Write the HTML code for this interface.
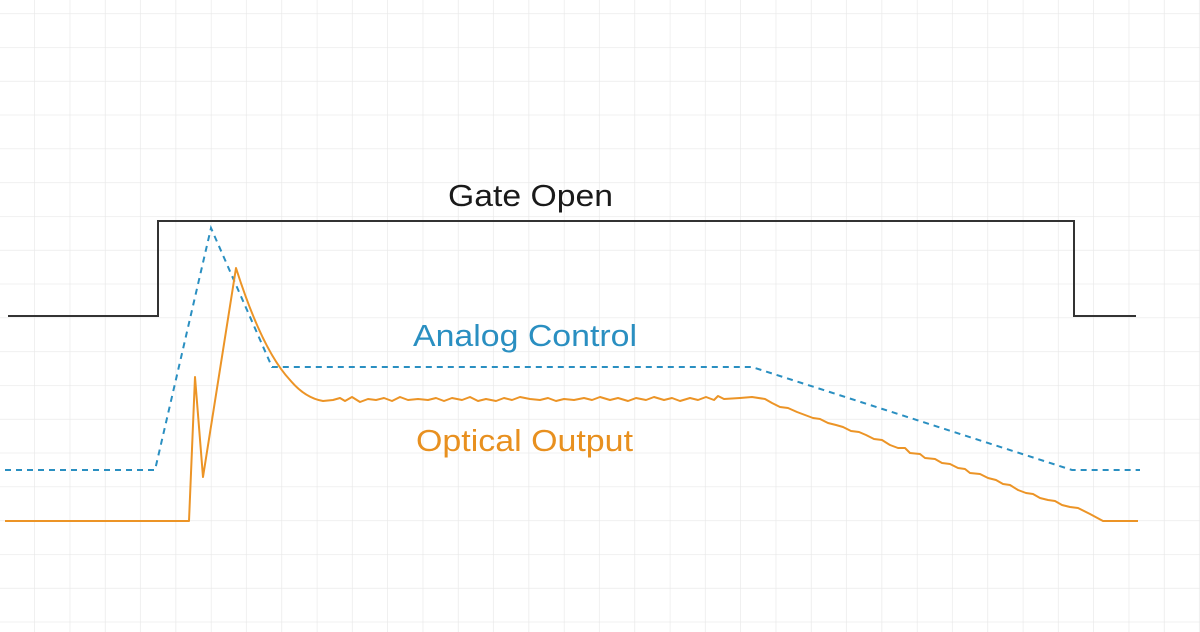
<!DOCTYPE html>
<html><head><meta charset="utf-8"><style>html,body{margin:0;padding:0;background:#fff}svg{display:block}</style></head>
<body>
<svg width="1200" height="632" viewBox="0 0 1200 632" xmlns="http://www.w3.org/2000/svg">
<defs>
<pattern id="g" x="-0.3" y="13.3" width="35.3" height="33.8" patternUnits="userSpaceOnUse">
<path d="M35.3 0V33.8M0 0H35.3" stroke="#e8e8e8" stroke-width="1.3" fill="none"/>
</pattern>
</defs>
<rect width="1200" height="632" fill="url(#g)"/>
<polyline points="8,316 158,316 158,221 1074,221 1074,316 1136,316" fill="none" stroke="#333" stroke-width="2"/>
<polyline points="5,470 155,470 211,228 272,367 752,367 1072,470 1140,470" fill="none" stroke="#2a8fc1" stroke-width="2" stroke-dasharray="6,5"/>
<path d="M5,521 L189,521 L195,377 L203,477 L236,268 Q262,350 290,380 Q305,398 323,401 L333,400 L340,398 L345,401 L352,397 L360,402 L368,399 L376,400 L384,398 L392,401 L400,397 L408,400 L418,399 L428,400 L436,398 L444,401 L452,398 L462,400 L470,397 L478,401 L486,399 L496,401 L504,398 L512,400 L520,397 L530,399 L540,400 L548,398 L556,401 L564,399 L574,400 L584,398 L592,400 L600,397 L610,400 L618,398 L628,401 L636,398 L646,400 L654,397 L664,400 L672,398 L680,401 L690,398 L698,400 L706,397 L714,400 L718,396 L724,399 L740,398 L752,397 L765,399 L772,403 L780,407 L788,408 L797,412 L805,415 L813,418 L820,419 L828,423 L836,425 L843,427 L851,431 L859,432 L866,435 L874,439 L882,440 L890,445 L898,448 L905,448 L910,453 L920,454 L925,458 L935,459 L942,463 L950,464 L958,468 L965,469 L970,473 L980,474 L988,478 L996,480 L1003,484 L1010,485 L1018,490 L1026,493 L1033,494 L1040,498 L1048,500 L1055,501 L1062,505 L1070,507 L1078,508 L1090,514 L1103,521 L1138,521" fill="none" stroke="#ec9426" stroke-width="2" stroke-linejoin="round"/>
<g font-family="Liberation Sans, Arial, sans-serif" font-size="31">
<text x="448" y="206" fill="#1a1a1a" textLength="165" lengthAdjust="spacingAndGlyphs">Gate Open</text>
<text x="413" y="346" fill="#2a8fc1" textLength="224" lengthAdjust="spacingAndGlyphs">Analog Control</text>
<text x="416" y="451" fill="#e8901f" textLength="217" lengthAdjust="spacingAndGlyphs">Optical Output</text>
</g>
</svg>
</body></html>
